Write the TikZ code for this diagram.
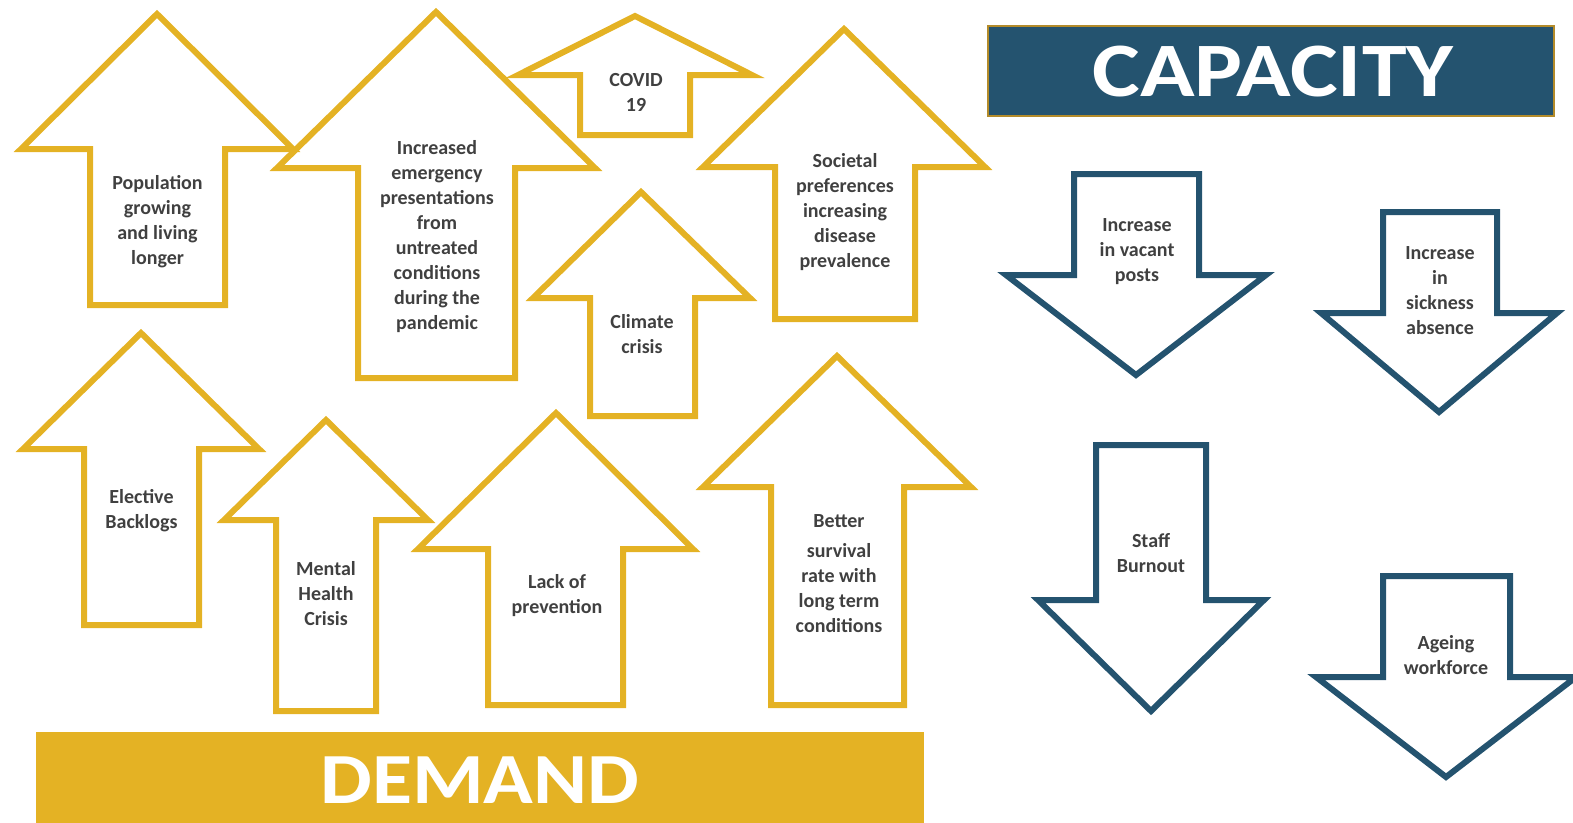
\documentclass[tikz,border=0pt]{standalone}
\usepackage{fontspec}
\setmainfont{Carlito}
\usepackage{xcolor}

\definecolor{demandgold}{HTML}{E4B224}
\definecolor{capblue}{HTML}{24536F}
\definecolor{capedge}{HTML}{B38B2A}
\definecolor{labelgrey}{HTML}{404040}

\newcommand{\widetext}[2]{\scalebox{#1}[1]{#2}}

\tikzset{
  demandarrow/.style={draw=demandgold, line width=6pt},
  capacityarrow/.style={draw=capblue, line width=6pt},
  arrowlabel/.style={text=labelgrey, align=center, inner sep=0pt,
    font=\bfseries\fontsize{20}{25}\selectfont},
  banner/.style={text=white, inner sep=0pt,
    font=\bfseries\fontsize{#1}{#1}\selectfont},
  banner/.default=76
}

\begin{document}
\begin{tikzpicture}[x=1pt, y=-1pt]

    \useasboundingbox (0,0) rectangle (1573,822);
    \clip (0,0) rectangle (1573,822);

    % Demand arrows (pointing up)
    \draw[demandarrow] (157,14) -- (293,149) -- (225,149) -- (225,305) -- (90,305) -- (90,149) -- (21,149) -- cycle;
    \draw[demandarrow] (436,12) -- (595,168) -- (515,168) -- (515,378) -- (358,378) -- (358,168) -- (277,168) -- cycle;
    \draw[demandarrow] (635,16) -- (752,75) -- (690,75) -- (690,135) -- (580,135) -- (580,75) -- (518,75) -- cycle;
    \draw[demandarrow] (844,29) -- (985,167) -- (915,167) -- (915,319) -- (775,319) -- (775,167) -- (703,167) -- cycle;
    \draw[demandarrow] (641,192) -- (750,298) -- (695,298) -- (695,416) -- (590,416) -- (590,298) -- (533,298) -- cycle;
    \draw[demandarrow] (141,333) -- (259,449) -- (199,449) -- (199,625) -- (84,625) -- (84,449) -- (23,449) -- cycle;
    \draw[demandarrow] (326,420) -- (428,520) -- (376,520) -- (376,711) -- (276,711) -- (276,520) -- (224,520) -- cycle;
    \draw[demandarrow] (556,413) -- (693,549) -- (623,549) -- (623,705) -- (488,705) -- (488,549) -- (418,549) -- cycle;
    \draw[demandarrow] (837,356) -- (971,487) -- (904,487) -- (904,705) -- (771,705) -- (771,487) -- (703,487) -- cycle;

    % Capacity arrows (pointing down)
    \draw[capacityarrow] (1074,174) -- (1199,174) -- (1199,275) -- (1266,275) -- (1136,375) -- (1006,275) -- (1074,275) -- cycle;
    \draw[capacityarrow] (1383,212) -- (1497,212) -- (1497,313) -- (1557,313) -- (1439,412) -- (1321,313) -- (1383,313) -- cycle;
    \draw[capacityarrow] (1096,445) -- (1206,445) -- (1206,600) -- (1264,600) -- (1151,711) -- (1038,600) -- (1096,600) -- cycle;
    \draw[capacityarrow] (1383,576) -- (1510,576) -- (1510,677) -- (1576,677) -- (1446,777) -- (1316,677) -- (1383,677) -- cycle;

    % Labels of the demand arrows
    \node[arrowlabel] (population) at (157.5,222) {Population\\growing\\and living\\longer};
    \node[arrowlabel] (emergency) at (437,237) {Increased\\emergency\\presentations\\from\\untreated\\conditions\\during the\\pandemic};
    \node[arrowlabel] (covid) at (636,92) {COVID\\19};
    \node[arrowlabel] (societal) at (845,212) {Societal\\preferences\\increasing\\disease\\prevalence};
    \node[arrowlabel] (climate) at (642,334) {Climate\\crisis};
    \node[arrowlabel] (elective) at (141.5,511) {Elective\\Backlogs};
    \node[arrowlabel] (mental) at (326,594) {Mental\\Health\\Crisis};
    \node[arrowlabel] (prevention) at (557,596) {Lack of\\prevention};
    \node[arrowlabel] (survival) at (839,574) {Better\\[5pt]survival\\rate with\\long term\\conditions};

    % Labels of the capacity arrows
    \node[arrowlabel] (vacant) at (1137,252) {Increase\\in vacant\\posts};
    \node[arrowlabel] (sickness) at (1440,291) {Increase\\in\\sickness\\absence};
    \node[arrowlabel] (burnout) at (1151,553) {Staff\\Burnout};
    \node[arrowlabel] (ageing) at (1446,655) {Ageing\\workforce};

    % Banners
    \node[fill=capblue, draw=capedge, line width=2pt,
      minimum width=566pt, minimum height=90pt] (capacitybox) at (1271,71) {};
    \node[banner=77] (capacity) at (1273,72) {\widetext{1.17}{CAPACITY}};
    \node[fill=demandgold, minimum width=888pt, minimum height=98pt] (demandbox) at (480,781) {};
    \node[banner=72] (demand) at (480,780) {\widetext{1.14}{DEMAND}};

\end{tikzpicture}
\end{document}
